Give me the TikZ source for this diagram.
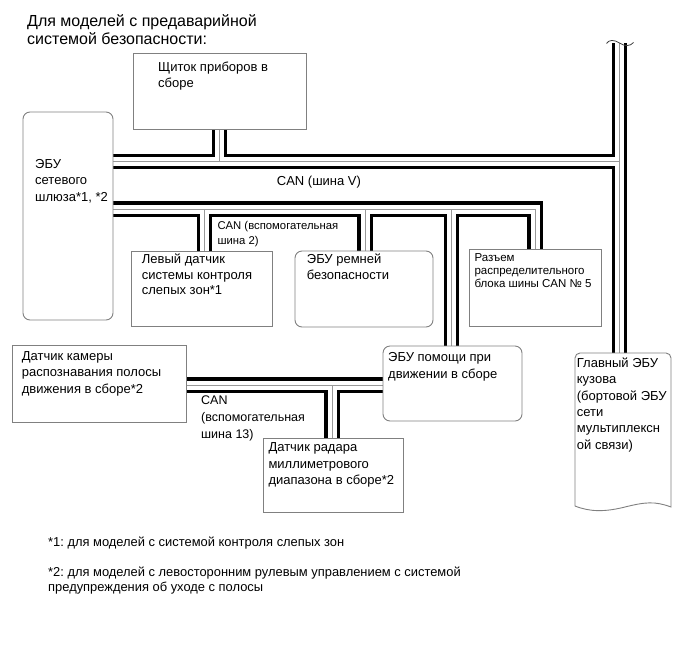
\documentclass[tikz,border=0pt]{standalone}
\usepackage{fontspec}
\setmainfont{Liberation Sans}
\usetikzlibrary{backgrounds}
\frenchspacing
\begin{document}
\begin{tikzpicture}[x=1pt,y=-1pt,
  box/.style={draw=black!50, line width=0.9pt, fill=white, inner sep=0, outer sep=0},
  rbox/.style={box, rounded corners=7pt},
  txt/.style={anchor=north west, inner sep=0, align=left, font=\fontsize{13}{16}\selectfont},
  smalltxt/.style={anchor=north west, inner sep=0, align=left, font=\fontsize{11.3}{14.7}\selectfont},
  busblack/.style={line width=15.6pt, black, line cap=butt, line join=miter},
  buswhite/.style={line width=9pt, white, line cap=butt, line join=miter},
  buscore/.style={line width=0.9pt, black!40, line cap=butt, line join=miter},
]
\useasboundingbox (0,0) rectangle (690,659);

% header
\node[anchor=north west, inner sep=0, align=left, font=\fontsize{16}{18.3}\selectfont] (hdr) at (27,14.5)
  {Для моделей с предаварийной\\системой безопасности:};

% boxes
\node[box, minimum width=173.5pt, minimum height=76.5pt] (cluster) at (219.75,91.25) {};
\node[rbox, minimum width=90pt, minimum height=208pt] (gw) at (68,216) {};
\node[box, minimum width=141pt, minimum height=75pt] (bsm) at (202,288.5) {};
\node[rbox, minimum width=138pt, minimum height=76pt] (belt) at (364,289) {};
\node[box, minimum width=132.5pt, minimum height=77pt] (can5) at (535.25,287.5) {};
\node[rbox, minimum width=139pt, minimum height=75pt] (das) at (452.5,383.5) {};
\node[box, minimum width=174pt, minimum height=77pt] (cam) at (99.5,383.5) {};
\node[box, minimum width=140pt, minimum height=74pt] (radar) at (333,475) {};
\node[inner sep=0, outer sep=0, minimum width=96pt, minimum height=154pt] (body) at (623,430) {};
\path[draw=black!50, line width=0.9pt, fill=white]
  (575,506) [rounded corners=5pt] -- (575,353) -- (671,353) [sharp corners] -- (671,507)
  .. controls (655,501) and (645,502) .. (625,507)
  .. controls (605,512) and (590,512) .. (575,506) -- cycle;

% junction coordinates
\coordinate (jV) at (619.5,161.3);
\coordinate (jC) at (219.3,161.3);
\coordinate (trunktop) at (619.5,43);
\coordinate (j2) at (535,209);
\coordinate (jA) at (204.5,209);
\coordinate (jB) at (365,209);
\coordinate (jD) at (451.5,209);
\coordinate (j13) at (332,385);

\newcommand\allbuses[1]{%
  \draw[#1] (gw.east |- jV) -- (jV);
  \draw[#1] (trunktop) -- (body.north -| trunktop);
  \draw[#1] (cluster.south -| jC) -- (jC);
  \draw[#1] (gw.east |- j2) -- (j2) -- (can5.north -| j2);
  \draw[#1] (jA) -- (bsm.north -| jA);
  \draw[#1] (jB) -- (belt.north -| jB);
  \draw[#1] (jD) -- (das.north -| jD);
  \draw[#1] (cam.east |- j13) -- (das.west |- j13);
  \draw[#1] (j13) -- (radar.north -| j13);
}
\begin{scope}[on background layer]
  \allbuses{busblack}
  \allbuses{buswhite}
  \allbuses{buscore}
\end{scope}

% break mark at top of trunk
\draw[black!75, line width=0.8pt] (606.5,43.5) .. controls (609,39.5) and (614,39.5) .. (619.5,43)
  .. controls (625,46.5) and (630,46.5) .. (633.5,42.5);

% texts
\node[txt] (clustert) at (158,61.7) {Щиток приборов в\\сборе};
\node[txt, font=\fontsize{13}{16.7}\selectfont] (gwt) at (35,159) {ЭБУ\\сетевого\\шлюза*1, *2};
\node[txt, font=\fontsize{13}{15.5}\selectfont] (bsmt) at (141.7,254) {Левый датчик\\системы контроля\\слепых зон*1};
\node[txt, font=\fontsize{13}{15.5}\selectfont] (beltt) at (306.7,254) {ЭБУ ремней\\безопасности};
\node[smalltxt, font=\fontsize{11.5}{12.7}\selectfont] (can5t) at (474.3,253.8) {Разъем\\распределительного\\блока шины CAN № 5};
\node[txt, font=\fontsize{13}{16.4}\selectfont] (bodyt) at (576.7,357.5) {Главный ЭБУ\\кузова\\(бортовой ЭБУ\\сети\\мультиплексн\\ой связи)};
\node[txt, font=\fontsize{13}{17}\selectfont] (dast) at (388,352.5) {ЭБУ помощи при\\движении в сборе};
\node[txt, font=\fontsize{13}{16.3}\selectfont] (camt) at (21.7,351.4) {Датчик камеры\\распознавания полосы\\движения в сборе*2};
\node[txt, font=\fontsize{13}{16.5}\selectfont] (radart) at (268.3,442.7) {Датчик радара\\миллиметрового\\диапазона в сборе*2};

\node[txt] (canV) at (276.7,176.2) {CAN (шина V)};
\node[smalltxt] (can2) at (217.3,221) {CAN (вспомогательная\\шина 2)};
\node[txt, font=\fontsize{12.5}{17}\selectfont] (can13) at (201,395.5) {CAN\\(вспомогательная\\шина 13)};

% footnotes
\node[txt, font=\fontsize{12.9}{15.3}\selectfont] (fn1) at (48,536.5) {*1: для моделей с системой контроля слепых зон};
\node[txt, font=\fontsize{12.9}{15.3}\selectfont] (fn2) at (48,566.5) {*2: для моделей с левосторонним рулевым управлением с системой\\предупреждения об уходе с полосы};
\end{tikzpicture}
\end{document}
